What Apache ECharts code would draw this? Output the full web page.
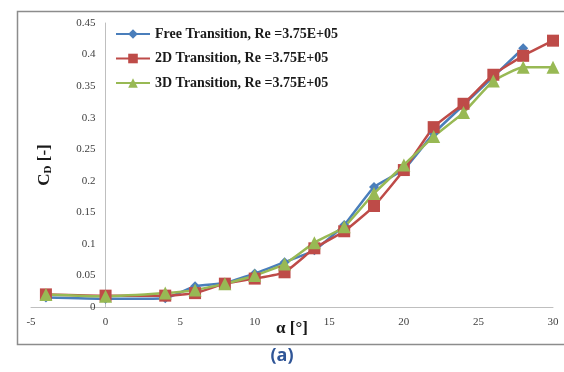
<!DOCTYPE html>
<html style="height: 100%">
<head>
    <meta charset="utf-8">
    <script src="https://cdn.jsdelivr.net/npm/echarts@6/dist/echarts.min.js"></script>
    <title>CD vs alpha</title>
</head>
<body style="height: 100%; margin: 0; background: #fff">
<div id="container" style="width: 564px; height: 372px"></div>

<script type="text/javascript">
    // angle of attack (deg)
    var alphaFree = [-4, 0, 4, 6, 8, 10, 12, 14, 16, 18, 20, 22, 24, 26, 28];
    var alpha = [-4, 0, 4, 6, 8, 10, 12, 14, 16, 18, 20, 22, 24, 26, 28, 30];
    // drag coefficient
    var cdFree = [0.015, 0.013, 0.014, 0.033, 0.038, 0.053, 0.071, 0.090, 0.130, 0.190, 0.218, 0.275, 0.320, 0.365, 0.410];
    var cd2D = [0.020, 0.018, 0.018, 0.022, 0.037, 0.045, 0.055, 0.093, 0.120, 0.160, 0.217, 0.285, 0.322, 0.368, 0.398, 0.422];
    var cd3D = [0.020, 0.017, 0.022, 0.027, 0.037, 0.050, 0.068, 0.102, 0.127, 0.180, 0.225, 0.270, 0.308, 0.358, 0.380, 0.380];
    var seriesNames = ['Free Transition, Re =3.75E+05', '2D Transition, Re =3.75E+05', '3D Transition, Re =3.75E+05'];

    function pairs(xs, ys) {
        var out = [];
        for (var i = 0; i < xs.length; i++) out.push([xs[i], ys[i]]);
        return out;
    }

    var myChart = echarts.init(document.getElementById('container'), null, {renderer: 'canvas'});
    var serif = '"Liberation Serif", "Times New Roman", serif';

    // plot area; the vertical axis sits at alpha = 0, like Excel does it
    var gridLeft = 31, gridRight = 11;
    var xMin = -5, xMax = 30;
    var zeroOffset = (0 - xMin) / (xMax - xMin) * (564 - gridLeft - gridRight);

    var option = {
        backgroundColor: '#fff',
        animation: false,
        graphic: [
            {
                type: 'rect', left: 15, top: 9, z: -10,
                shape: {width: 570, height: 333},
                style: {fill: 'none', stroke: '#8c8c8c', lineWidth: 1.5}
            },
            {
                type: 'text', left: 'center', top: 347,
                style: {text: '(a)', fill: '#2f5597', font: 'bold 18px "Open Sans", sans-serif'}
            }
        ],
        legend: {
            data: seriesNames,
            orient: 'vertical',
            left: 110,
            top: 22,
            itemWidth: 34,
            itemHeight: 12,
            itemGap: 10.5,
            textStyle: {fontFamily: serif, fontWeight: 'bold', fontSize: 14, color: '#1a1a1a'}
        },
        grid: {left: gridLeft, right: gridRight, top: 23, bottom: 65, outerBoundsMode: 'none', containLabel: false},
        xAxis: {
            type: 'value',
            min: xMin, max: xMax, interval: 5,
            name: 'α [°]',
            nameLocation: 'middle',
            nameGap: 13,
            nameMoveOverlap: false,
            nameTextStyle: {fontFamily: serif, fontWeight: 'bold', fontSize: 17, color: '#1a1a1a'},
            axisLine: {lineStyle: {color: '#bfbfbf', width: 1}},
            axisTick: {show: false},
            axisLabel: {fontFamily: serif, fontSize: 11, color: '#404040', margin: 10},
            splitLine: {show: false}
        },
        yAxis: {
            type: 'value',
            min: 0, max: 0.45, interval: 0.05,
            offset: -zeroOffset,
            name: '{c|C}{s|D}{c| [-]}',
            nameLocation: 'middle',
            nameRotate: 90,
            nameGap: 52,
            nameMoveOverlap: false,
            nameTextStyle: {
                rich: {
                    c: {fontFamily: serif, fontWeight: 'bold', fontSize: 17, color: '#1a1a1a'},
                    s: {fontFamily: serif, fontWeight: 'bold', fontSize: 11, color: '#1a1a1a', verticalAlign: 'bottom', padding: [6, 0, 0, 0]}
                }
            },
            axisLine: {show: true, onZero: false, lineStyle: {color: '#bfbfbf', width: 1}},
            axisTick: {show: false},
            axisLabel: {fontFamily: serif, fontSize: 11, color: '#404040', margin: 10},
            splitLine: {show: false}
        },
        series: [
            {
                name: seriesNames[0],
                type: 'line',
                smooth: 0.15,
                data: pairs(alphaFree, cdFree),
                symbol: 'diamond',
                symbolSize: 10,
                itemStyle: {color: '#4a7ebb'},
                lineStyle: {width: 2.5, color: '#4a7ebb'}
            },
            {
                name: seriesNames[1],
                type: 'line',
                smooth: 0.15,
                data: pairs(alpha, cd2D),
                symbol: 'rect',
                symbolSize: 12,
                itemStyle: {color: '#be4b48'},
                lineStyle: {width: 2.5, color: '#be4b48'}
            },
            {
                name: seriesNames[2],
                type: 'line',
                smooth: 0.15,
                data: pairs(alpha, cd3D),
                symbol: 'triangle',
                symbolSize: 13,
                itemStyle: {color: '#98b954'},
                lineStyle: {width: 2.5, color: '#98b954'}
            }
        ]
    };

    myChart.setOption(option);
    window.addEventListener('resize', myChart.resize);
</script>
</body>
</html>
